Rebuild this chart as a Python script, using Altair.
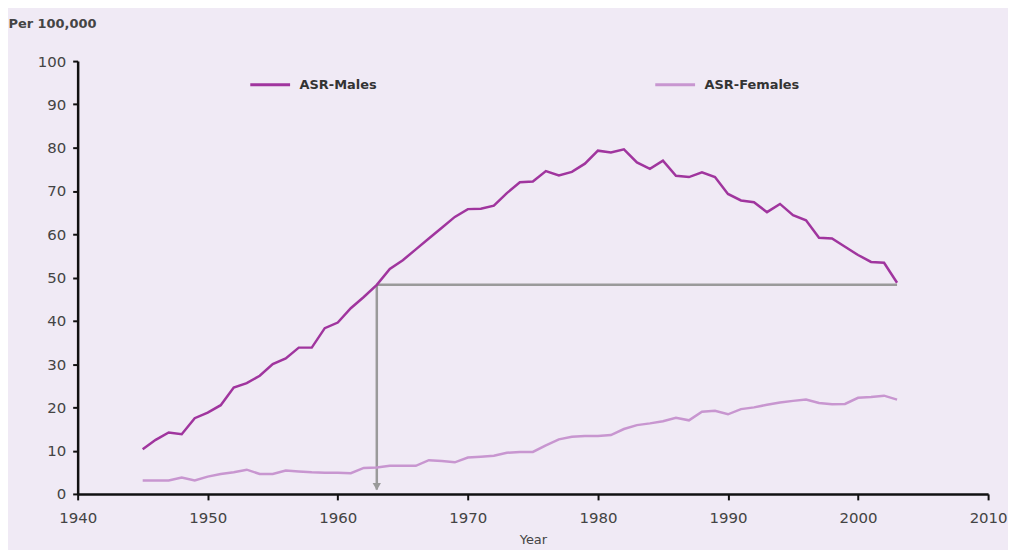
import altair as alt
import pandas as pd

years = list(range(1945, 2004))
males = [10.3, 12.5, 14.2, 13.8, 17.5, 18.8, 20.5, 24.6, 25.6, 27.3,
         30.0, 31.3, 33.8, 33.8, 38.3, 39.6, 42.9, 45.5, 48.3, 52.0,
         54.0, 56.5, 59.0, 61.5, 64.0, 65.8, 65.9, 66.6, 69.5, 72.0,
         72.2, 74.6, 73.6, 74.4, 76.3, 79.3, 78.9, 79.6, 76.6, 75.1,
         77.0, 73.5, 73.2, 74.3, 73.2, 69.3, 67.8, 67.4, 65.1, 67.0,
         64.4, 63.2, 59.2, 59.0, 57.1, 55.2, 53.6, 53.4, 48.8]
females = [3.1, 3.1, 3.1, 3.8, 3.1, 4.0, 4.6, 5.0, 5.6, 4.6,
           4.6, 5.4, 5.2, 5.0, 4.9, 4.9, 4.8, 6.0, 6.1, 6.5,
           6.5, 6.5, 7.8, 7.6, 7.3, 8.4, 8.6, 8.8, 9.5, 9.7,
           9.7, 11.2, 12.6, 13.2, 13.4, 13.4, 13.6, 15.0, 15.9, 16.3,
           16.8, 17.6, 17.0, 19.0, 19.2, 18.4, 19.6, 20.0, 20.6, 21.1,
           21.5, 21.8, 21.0, 20.7, 20.8, 22.2, 22.4, 22.7, 21.8]
series_names = ["ASR-Males", "ASR-Females"]
series_colors = ["#a0359e", "#c896d0"]

ref_start_year = 1963
ref_end_year = 2003
ref_value = 48.3
arrow_bottom = 1.0

FONT = "DejaVu Sans"
BG = "#f0eaf5"

df = pd.concat([
    pd.DataFrame({"Year": years, "Rate": males, "Series": series_names[0]}),
    pd.DataFrame({"Year": years, "Rate": females, "Series": series_names[1]}),
])

x_scale = alt.Scale(domain=[1940, 2010], nice=False, zero=False)
y_scale = alt.Scale(domain=[0, 100], nice=False)

x_axis = alt.Axis(values=list(range(1940, 2011, 10)), format="d", title="Year",
                  grid=False, domainColor="#111", domainWidth=2.5, tickColor="#111",
                  tickWidth=2, tickSize=6, labelPadding=11, labelFont=FONT,
                  labelFontSize=15, labelColor="#444", titleFont=FONT,
                  titleFontSize=13, titleFontWeight="normal", titleColor="#444",
                  titlePadding=8, labelFlush=False)
y_axis = alt.Axis(values=list(range(0, 101, 10)), title="Per 100,000", grid=False,
                  domainColor="#111", domainWidth=2.5, tickColor="#111", tickWidth=2,
                  tickSize=5, labelPadding=7, labelFont=FONT, labelFontSize=15,
                  labelColor="#444", titleFont=FONT, titleFontSize=13,
                  titleFontWeight="bold", titleColor="#444", titleAngle=0,
                  titleAlign="left", titleBaseline="middle", titleX=-70, titleY=-38)

lines = alt.Chart(df).mark_line(strokeWidth=2.5).encode(
    x=alt.X("Year:Q", scale=x_scale, axis=x_axis),
    y=alt.Y("Rate:Q", scale=y_scale, axis=y_axis),
    color=alt.Color("Series:N", scale=alt.Scale(domain=series_names, range=series_colors),
                    legend=alt.Legend(title=None, orient="none", legendX=172, legendY=2,
                                      direction="horizontal", symbolType="stroke",
                                      symbolStrokeWidth=3, symbolSize=1600,
                                      labelFont=FONT, labelFontSize=13,
                                      labelFontWeight="bold", labelColor="#333",
                                      labelOffset=8, columnPadding=273)),
    order="Year:Q",
)

ref_h = pd.DataFrame({"x": [ref_start_year], "x2": [ref_end_year], "y": [ref_value]})
ref_v = pd.DataFrame({"x": [ref_start_year], "y": [ref_value], "y2": [arrow_bottom]})
arrow = pd.DataFrame({"x": [ref_start_year], "y": [arrow_bottom]})

h_rule = alt.Chart(ref_h).mark_rule(color="#9a9a9a", strokeWidth=2.5).encode(
    x=alt.X("x:Q", scale=x_scale), x2="x2:Q", y=alt.Y("y:Q", scale=y_scale))
v_rule = alt.Chart(ref_v).mark_rule(color="#9a9a9a", strokeWidth=2.5).encode(
    x=alt.X("x:Q", scale=x_scale), y=alt.Y("y:Q", scale=y_scale), y2="y2:Q")
head = alt.Chart(arrow).mark_point(shape="triangle-down", filled=True, color="#9a9a9a",
                                   size=70, opacity=1, yOffset=-3).encode(
    x=alt.X("x:Q", scale=x_scale), y=alt.Y("y:Q", scale=y_scale))

chart = alt.layer(h_rule, v_rule, head, lines).properties(
    width=915, height=435,
    autosize=alt.AutoSizeParams(type="none"),
    padding={"left": 70, "top": 52, "right": 20, "bottom": 55},
    background=BG,
).configure_view(stroke=None, fill=BG)

chart.save("out.html", embed_options={"renderer": "svg", "actions": False})
